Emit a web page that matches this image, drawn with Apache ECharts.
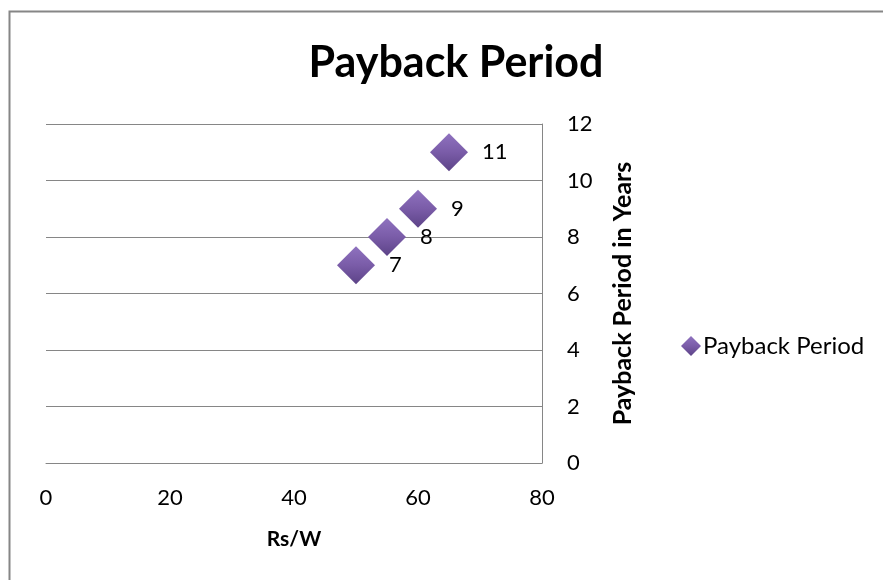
<!DOCTYPE html>
<html>
<head>
<meta charset="utf-8">
<script src="https://cdn.jsdelivr.net/npm/echarts@6/dist/echarts.min.js"></script>
<style>
  html, body { margin: 0; padding: 0; background: #fff; }
  #main { width: 883px; height: 580px; }
</style>
</head>
<body>
<div id="main"></div>
<script>
var rsPerWatt = [50, 55, 60, 65];
var paybackYears = [7, 8, 9, 11];
var seriesName = 'Payback Period';

var font = 'Lato, "Open Sans", sans-serif';
var purple = new echarts.graphic.LinearGradient(0, 0, 0, 1, [
    { offset: 0, color: '#8f72bf' },
    { offset: 0.5, color: '#7a5ca8' },
    { offset: 1, color: '#5c4387' }
]);

var points = rsPerWatt.map(function (x, i) { return [x, paybackYears[i]]; });

var chart = echarts.init(document.getElementById('main'));
chart.setOption({
    animation: false,
    backgroundColor: '#fff',
    title: {
        text: 'Payback Period',
        left: 451,
        top: 37,
        textAlign: 'center',
        textStyle: { fontFamily: font, fontSize: 43, fontWeight: 'bold', color: '#000' }
    },
    legend: {
        left: 676,
        top: 329,
        icon: 'diamond',
        itemWidth: 20,
        itemHeight: 20,
        itemGap: 4,
        textStyle: { fontFamily: font, fontSize: 24, color: '#000', padding: [0, 0, 0, -3] },
        data: [seriesName]
    },
    grid: { left: 46, right: 341, top: 124, bottom: 117 },
    xAxis: {
        type: 'value',
        min: 0, max: 80, interval: 20,
        name: 'Rs/W',
        nameLocation: 'middle',
        nameGap: 66,
        nameTextStyle: { fontFamily: font, fontSize: 21, fontWeight: 'bold', color: '#000' },
        axisLine: { show: true, onZero: false, lineStyle: { color: '#868686', width: 1 } },
        axisTick: { show: false },
        splitLine: { show: false },
        axisLabel: { fontFamily: font, fontSize: 22, color: '#000', margin: 24 }
    },
    yAxis: {
        type: 'value',
        position: 'right',
        min: 0, max: 12, interval: 2,
        name: 'Payback Period in Years',
        nameLocation: 'middle',
        nameRotate: 90,
        nameGap: 68,
        nameTextStyle: { fontFamily: font, fontSize: 25, fontWeight: 'bold', color: '#000' },
        axisLine: { show: true, onZero: false, lineStyle: { color: '#868686', width: 1 } },
        axisTick: { show: false },
        splitLine: { show: true, lineStyle: { color: '#868686', width: 1 } },
        axisLabel: { fontFamily: font, fontSize: 22, color: '#000', margin: 25, align: 'left' }
    },
    series: [{
        name: seriesName,
        type: 'scatter',
        symbol: 'diamond',
        symbolSize: 38,
        itemStyle: { color: purple, opacity: 1 },
        label: {
            show: true,
            position: 'right',
            distance: 14,
            fontFamily: font,
            fontSize: 22,
            color: '#000',
            formatter: function (p) { return p.value[1]; }
        },
        data: points
    }],
    graphic: [{
        type: 'rect',
        shape: { x: 9.5, y: 11.5, width: 1000, height: 1000 },
        style: { fill: 'none', stroke: '#868686', lineWidth: 2 },
        silent: true,
        z: -1
    }]
});
</script>
</body>
</html>
